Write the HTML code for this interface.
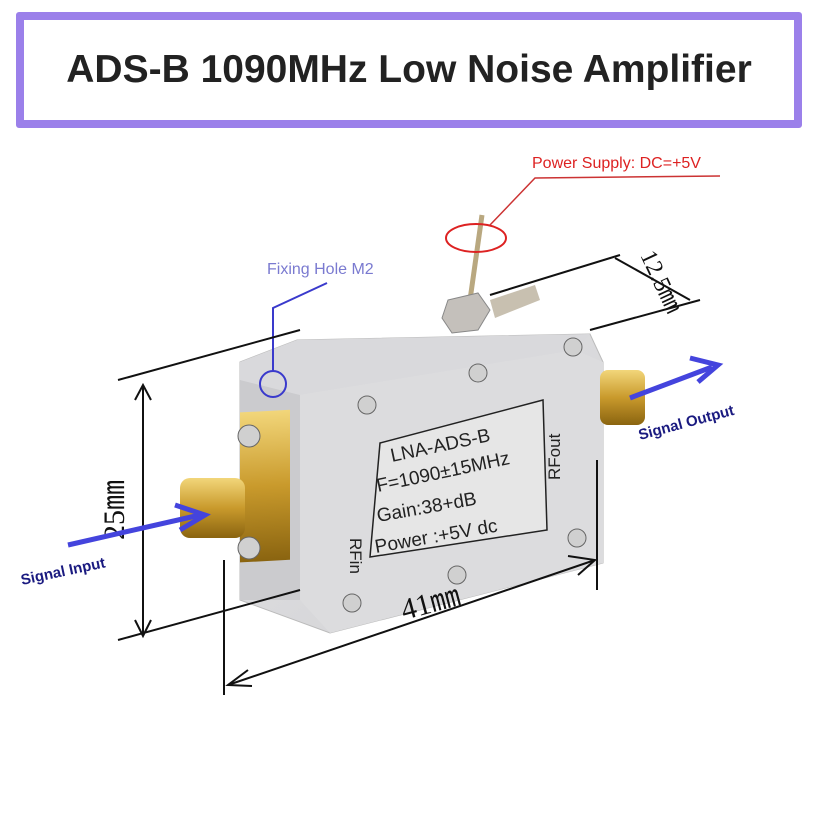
<!DOCTYPE html>
<html><head><style>
html,body{margin:0;padding:0;background:#fff;}
body{width:820px;height:820px;position:relative;overflow:hidden;font-family:"Liberation Sans",sans-serif;}
.title{position:absolute;left:16px;top:12px;width:770px;height:100px;border:8px solid #9b80ea;border-radius:3px;display:flex;align-items:center;justify-content:center;font-weight:bold;font-size:39px;color:#222;}
</style></head><body>
<div class="title">ADS-B 1090MHz Low Noise Amplifier</div>
<svg width="820" height="820" style="position:absolute;left:0;top:0">
<defs>
<linearGradient id="g1" x1="0" y1="0" x2="1" y2="1"><stop offset="0" stop-color="#e4e4e6"/><stop offset="1" stop-color="#cfcfd2"/></linearGradient>
<linearGradient id="gold" x1="0" y1="0" x2="0" y2="1"><stop offset="0" stop-color="#f2d67a"/><stop offset="0.5" stop-color="#c99a2c"/><stop offset="1" stop-color="#8a6410"/></linearGradient>
</defs>
<line x1="482" y1="215" x2="470" y2="300" stroke="#b9a880" stroke-width="5"/>
<path d="M490 300 L535 285 L540 300 L495 318Z" fill="#c8c0b0"/>
<polygon points="240,362 297,340 590,334 603,362 603,563 330,633 240,600" fill="url(#g1)" stroke="#bbb"/>
<polygon points="240,362 297,340 590,334 575,350 300,395 240,380" fill="#d9d9dc"/>
<polygon points="300,395 575,350 603,362 603,563 330,633 300,600" fill="#dcdcde"/>
<polygon points="240,380 300,395 300,600 240,600" fill="#cbcbce"/>
<polygon points="448,300 478,293 490,310 478,330 452,333 442,318" fill="#c4c0bb" stroke="#888"/>
<polygon points="380,443 543,400 547,530 370,557" fill="#e6e6e6" stroke="#222" stroke-width="1.5"/>
<g font-family="Liberation Sans" fill="#222" font-size="19">
<text x="392" y="462" transform="rotate(-12 392 462)">LNA-ADS-B</text>
<text x="378" y="492" transform="rotate(-12 378 492)">F=1090±15MHz</text>
<text x="378" y="522" transform="rotate(-10 378 522)">Gain:38+dB</text>
<text x="376" y="553" transform="rotate(-10 376 553)">Power :+5V dc</text>
<text x="350" y="538" transform="rotate(90 350 538)" font-size="17">RFin</text>
<text x="560" y="480" transform="rotate(-90 560 480)" font-size="17">RFout</text>
</g>
<g fill="#d0d0d0" stroke="#666">
<circle cx="478" cy="373" r="9"/><circle cx="367" cy="405" r="9"/><circle cx="573" cy="347" r="9"/><circle cx="577" cy="538" r="9"/><circle cx="457" cy="575" r="9"/><circle cx="352" cy="603" r="9"/>
</g>
<rect x="240" y="425" width="50" height="150" fill="url(#gold)" transform="skewY(-3)"/>
<g fill="#d0d0d0" stroke="#666"><circle cx="249" cy="436" r="11"/><circle cx="249" cy="548" r="11"/></g>
<rect x="180" y="478" width="65" height="60" rx="10" fill="url(#gold)"/>
<rect x="600" y="370" width="45" height="55" rx="8" fill="url(#gold)"/>
<circle cx="273" cy="384" r="13" fill="none" stroke="#3a3acc" stroke-width="2"/>
<polyline points="273,371 273,308 327,283" fill="none" stroke="#3a3acc" stroke-width="2"/>
<text x="267" y="274" fill="#7a7ad0" font-size="16">Fixing Hole M2</text>
<ellipse cx="476" cy="238" rx="30" ry="14" fill="none" stroke="#d22" stroke-width="2"/>
<polyline points="490,225 535,178 720,176" fill="none" stroke="#c33" stroke-width="1.5"/>
<text x="532" y="168" fill="#d22" font-size="16">Power Supply: DC=+5V</text>
<g stroke="#111" stroke-width="2" fill="none">
<line x1="118" y1="380" x2="300" y2="330"/>
<line x1="118" y1="640" x2="300" y2="590"/>
<line x1="143" y1="385" x2="143" y2="636"/>
<polyline points="135,400 143,385 151,400"/><polyline points="135,620 143,636 151,620"/>
<line x1="490" y1="295" x2="620" y2="255"/>
<line x1="590" y1="330" x2="700" y2="300"/>
<line x1="615" y1="258" x2="690" y2="300"/>
<line x1="224" y1="560" x2="224" y2="695"/>
<line x1="597" y1="460" x2="597" y2="590"/>
<line x1="228" y1="685" x2="595" y2="560"/>
<polyline points="248,670 228,685 252,686"/><polyline points="568,556 595,560 578,575"/>
</g>
<text x="124" y="540" transform="rotate(-90 124 540)" font-family="Liberation Serif" font-size="30" fill="#111">25㎜</text>
<text x="404" y="620" transform="rotate(-15 404 620)" font-family="Liberation Serif" font-size="30" fill="#111">41㎜</text>
<text x="640" y="255" transform="rotate(65 640 255)" font-family="Liberation Serif" font-size="24" fill="#111">12.5㎜</text>
<line x1="68" y1="545" x2="200" y2="515" stroke="#4444dd" stroke-width="5"/>
<polyline points="175,505 205,515 180,530" fill="none" stroke="#4444dd" stroke-width="5"/>
<text x="22" y="585" transform="rotate(-12 22 585)" fill="#1a1a80" font-size="15" font-weight="bold">Signal Input</text>
<line x1="630" y1="398" x2="712" y2="367" stroke="#4444dd" stroke-width="5"/>
<polyline points="690,358 718,365 698,382" fill="none" stroke="#4444dd" stroke-width="5"/>
<text x="640" y="440" transform="rotate(-15 640 440)" fill="#1a1a80" font-size="15" font-weight="bold">Signal Output</text>
</svg>
</body></html>
